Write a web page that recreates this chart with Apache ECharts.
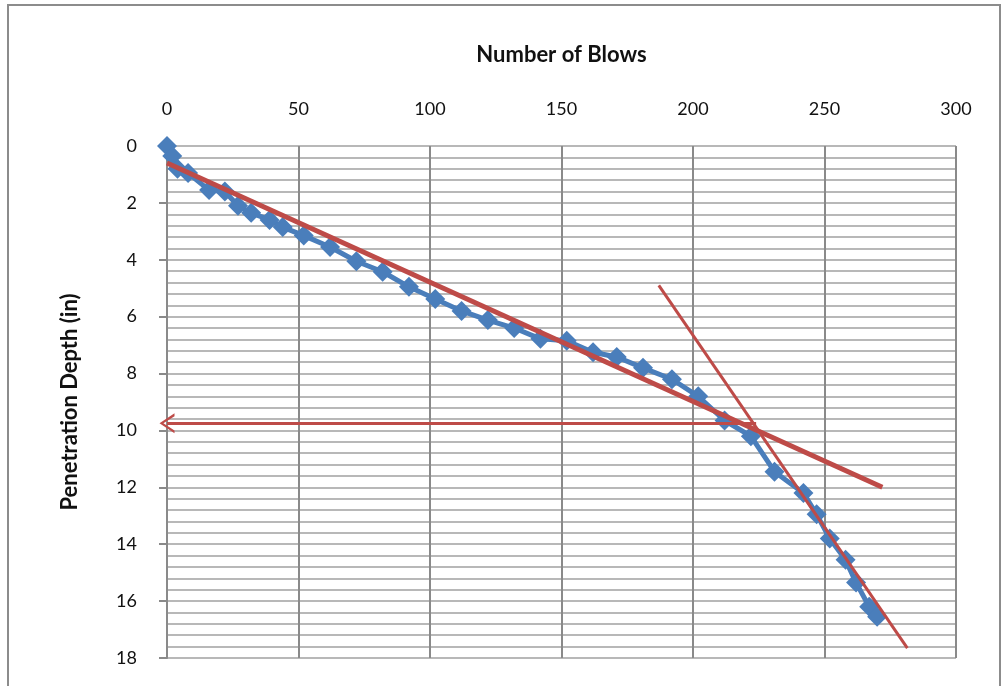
<!DOCTYPE html>
<html>
<head>
<meta charset="utf-8">
<script src="https://cdn.jsdelivr.net/npm/echarts@6/dist/echarts.min.js"></script>
<style>
  html, body { margin: 0; padding: 0; background: #fff; }
  #frame {
    position: absolute; left: 7px; top: 4px; width: 994px; height: 700px;
    border: 2px solid #8c8c8c; box-sizing: border-box;
  }
  #chart { position: absolute; left: 0; top: 0; width: 1003px; height: 686px; }
</style>
</head>
<body>
<div id="frame"></div>
<div id="chart"></div>
<script>
// blow count vs penetration depth
const blows = [0, 2, 4, 8, 16, 22, 27, 32, 39, 44, 52, 62, 72, 82, 92, 102, 112, 122, 132, 142,
  152, 162, 171, 181, 192, 202, 212, 222, 231, 242, 247, 252, 258, 262, 267, 270];
const depth = [0, 0.35, 0.8, 0.95, 1.55, 1.6, 2.1, 2.35, 2.6, 2.85, 3.15, 3.55, 4.05, 4.42, 4.95, 5.38, 5.8, 6.12, 6.4, 6.78,
  6.85, 7.25, 7.42, 7.8, 8.2, 8.8, 9.65, 10.2, 11.45, 12.2, 12.95, 13.8, 14.55, 15.35, 16.2, 16.55];

// fitted lines (end points)
const trendA_x = [0, 272];
const trendA_y = [0.6, 12];
const trendB_x = [187, 281.5];
const trendB_y = [4.9, 17.65];

// read-off arrow at the break point
const arrowDepth = 9.75;
const arrowFrom = 224;
const arrowTo = 0;

const xTicks = { min: 0, max: 300, step: 50 };
const yTicks = { min: 0, max: 18, step: 2 };

const red = '#BE4B48';
const blue = '#4A7EBB';
const font = 'Lato, "Open Sans", sans-serif';

function pairs(xs, ys) {
  return xs.map((x, i) => [x, ys[i]]);
}

let myChart = echarts.init(document.getElementById('chart'));
let options = {
  animation: false,
  grid: { left: 167, top: 146, right: 47, bottom: 28 },
  xAxis: {
    type: 'value',
    position: 'top',
    min: xTicks.min, max: xTicks.max, interval: xTicks.step,
    name: 'Number of Blows',
    nameLocation: 'middle',
    nameGap: 80,
    nameTextStyle: { fontFamily: font, fontWeight: 'bold', fontSize: 22, color: '#111' },
    axisLine: { show: false },
    axisTick: { show: false },
    axisLabel: { fontFamily: font, fontSize: 18, color: '#111', margin: 28 },
    splitLine: { show: true, lineStyle: { color: '#8a8a8a', width: 2 } }
  },
  yAxis: {
    type: 'value',
    inverse: true,
    min: yTicks.min, max: yTicks.max, interval: yTicks.step,
    name: 'Penetration Depth (in)',
    nameLocation: 'middle',
    nameRotate: 90,
    nameGap: 86,
    nameTextStyle: { fontFamily: font, fontWeight: 'bold', fontSize: 22, color: '#111' },
    axisLine: { show: true, lineStyle: { color: '#8a8a8a', width: 2 } },
    axisTick: { show: true, length: 8, lineStyle: { color: '#8a8a8a', width: 2 } },
    axisLabel: { fontFamily: font, fontSize: 18, color: '#111', margin: 30 },
    minorTick: { show: false, splitNumber: 5 },
    splitLine: { show: true, lineStyle: { color: '#b8b8b8', width: 2 } },
    minorSplitLine: { show: true, lineStyle: { color: '#b8b8b8', width: 2 } }
  },
  series: [
    {
      name: 'data',
      type: 'line',
      data: pairs(blows, depth),
      symbol: 'diamond',
      symbolSize: 20,
      itemStyle: { color: blue },
      lineStyle: { color: blue, width: 5 },
      z: 2
    },
    {
      name: 'trend A',
      type: 'line',
      data: pairs(trendA_x, trendA_y),
      symbol: 'none',
      lineStyle: { color: red, width: 5 },
      z: 3,
      markLine: {
        silent: true,
        symbol: ['none', 'path://M0,10 L5,0 L10,10 L8.6,10 L5,2.6 L1.4,10 Z'],
        symbolSize: [20, 15],
        label: { show: false },
        lineStyle: { color: red, width: 3, type: 'solid' },
        data: [[{ coord: [arrowFrom, arrowDepth] }, { coord: [arrowTo, arrowDepth] }]]
      }
    },
    {
      name: 'trend B',
      type: 'line',
      data: pairs(trendB_x, trendB_y),
      symbol: 'none',
      lineStyle: { color: red, width: 3 },
      z: 3
    }
  ]
};
myChart.setOption(options);
</script>
</body>
</html>
